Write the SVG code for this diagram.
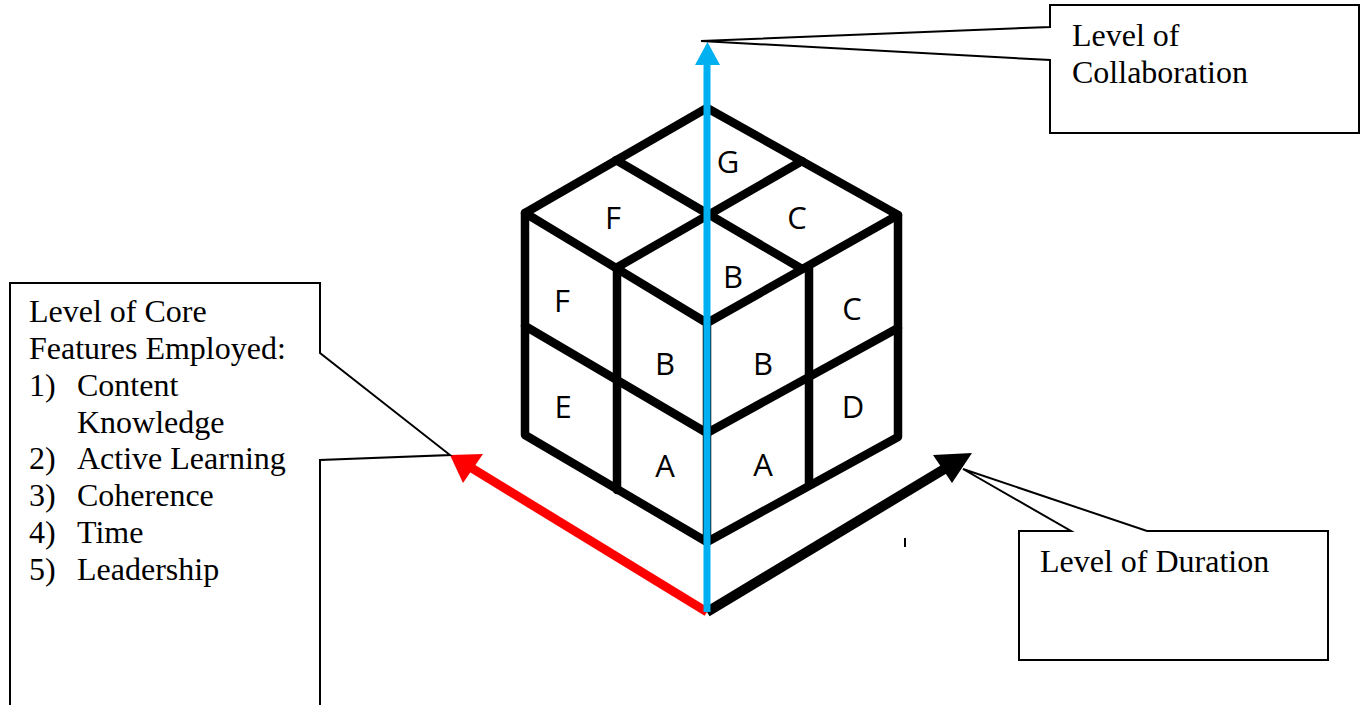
<svg xmlns="http://www.w3.org/2000/svg" width="1361" height="705" viewBox="0 0 1361 705">
<style>
.cube{fill:none;stroke:#000;stroke-width:8.5;stroke-linecap:round;stroke-linejoin:round}
.cl{font-family:"Open Sans","DejaVu Sans",sans-serif;font-size:31px;fill:#000;text-anchor:middle}
.box{fill:#fff;stroke:#000;stroke-width:2;stroke-linejoin:miter}
.t{font-family:"Liberation Serif","Times New Roman",serif;font-size:32px;fill:#000}
</style>
<rect width="1361" height="705" fill="#fff"/>
<g id="cube">
  <path class="cube" d="M707,108 L525,213 L525,435 L707,542 L898,437 L898,215 Z"/>
  <path class="cube" d="M525,213 L707,323 L898,215 M707,323 L707,542"/>
  <path class="cube" d="M616,160 L802,269 M802,161 L616,268"/>
  <path class="cube" d="M617,268 L617,490 M809,268 L809,485"/>
  <path class="cube" d="M525,326 L707,433 L898,328"/>
  <text class="cl" x="728" y="173">G</text>
  <text class="cl" x="613" y="229">F</text>
  <text class="cl" x="797" y="229">C</text>
  <text class="cl" x="733" y="288">B</text>
  <text class="cl" x="562" y="312">F</text>
  <text class="cl" x="852" y="320">C</text>
  <text class="cl" x="665" y="375">B</text>
  <text class="cl" x="763" y="375">B</text>
  <text class="cl" x="563" y="418">E</text>
  <text class="cl" x="853" y="418">D</text>
  <text class="cl" x="665" y="477">A</text>
  <text class="cl" x="763" y="476">A</text>
</g>
<g id="connectors">
  <line x1="707" y1="612" x2="470" y2="467" stroke="#ff0000" stroke-width="9"/>
  <polygon points="450,455 483,454 463,483" fill="#ff0000"/>
  <line x1="707" y1="612" x2="946" y2="468" stroke="#000" stroke-width="10"/>
  <polygon points="972,453 933,455 952,483" fill="#000"/>
  <line x1="707" y1="612" x2="707" y2="62" stroke="#00b0f0" stroke-width="7"/>
  <polygon points="707.5,42 695,65 720,65" fill="#00b0f0"/>
  <line x1="905" y1="538" x2="905" y2="547" stroke="#000" stroke-width="2"/>
</g>
<g id="collab">
  <path class="box" d="M1050,5 H1359 V133 H1050 V60 L701,41 L1050,27 Z"/>
  <text class="t" x="1072" y="46">Level of</text>
  <text class="t" x="1072" y="83">Collaboration</text>
</g>
<g id="core">
  <path class="box" d="M10,712 L10,283 L320,283 L320,353 L450,455 L320,460 L320,712"/>
  <text class="t" x="29" y="322">Level of Core</text>
  <text class="t" x="29" y="359">Features Employed:</text>
  <text class="t" x="29" y="396">1)</text><text class="t" x="77" y="396">Content</text>
  <text class="t" x="77" y="433">Knowledge</text>
  <text class="t" x="29" y="469">2)</text><text class="t" x="77" y="469">Active Learning</text>
  <text class="t" x="29" y="506">3)</text><text class="t" x="77" y="506">Coherence</text>
  <text class="t" x="29" y="543">4)</text><text class="t" x="77" y="543">Time</text>
  <text class="t" x="29" y="580">5)</text><text class="t" x="77" y="580">Leadership</text>
</g>
<g id="duration">
  <path class="box" d="M1019,531 H1071 L963,469 L1147,531 H1328 V660 H1019 Z"/>
  <text class="t" x="1040" y="572">Level of Duration</text>
</g>
</svg>
